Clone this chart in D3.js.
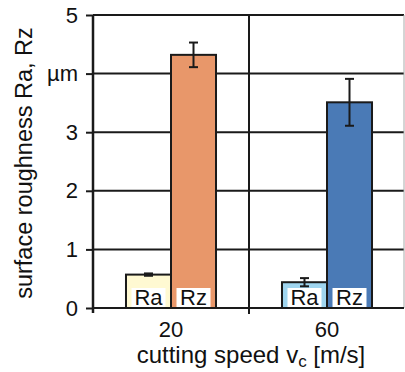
<!DOCTYPE html>
<html><head><meta charset="utf-8">
<script src="https://cdn.jsdelivr.net/npm/d3@7"></script>
<style>body{margin:0;background:#fff}svg{display:block;font-family:"Liberation Sans",Arial,sans-serif}</style>
</head><body><svg id="c" width="405" height="372"></svg>
<script>
const speeds = ["20", "60"];
const measures = ["Ra", "Rz"];
const values20 = [0.57, 4.32];
const values60 = [0.44, 3.51];
const errors20 = [0.02, 0.21];
const errors60 = [0.07, 0.40];
const yTicks = [0, 1, 2, 3, 4, 5];
const yTickLabels = ["0", "1", "2", "3", "µm", "5"];
const fills = {"20": ["#FFF9D2", "#E8976A"], "60": ["#9FD5EF", "#4A7AB6"]};

const data = [];
speeds.forEach((s, i) => {
  const vals = i === 0 ? values20 : values60;
  const errs = i === 0 ? errors20 : errors60;
  measures.forEach((m, j) => data.push({speed: s, measure: m, value: vals[j], err: errs[j], fill: fills[s][j]}));
});

const svg = d3.select("#c");
const L = 93, R = 405, T = 15, B = 308;
const x = d3.scaleBand().domain(speeds).range([L, R]).padding(0);
const xi = d3.scaleBand().domain(measures).range([0, x.bandwidth()]).paddingInner(0).paddingOuter(0.733);
const y = d3.scaleLinear().domain([0, 5]).range([B, T]);

// gridlines
svg.append("g").selectAll("line").data(yTicks.filter(d => d > 0)).join("line")
  .attr("x1", L).attr("x2", R - 1).attr("y1", d => y(d)).attr("y2", d => y(d))
  .attr("stroke", "#1a1a1a").attr("stroke-width", 2);
// vertical separator
svg.append("line").attr("x1", x("60")).attr("x2", x("60")).attr("y1", T).attr("y2", B + 6)
  .attr("stroke", "#1a1a1a").attr("stroke-width", 2);
// right edge
svg.append("line").attr("x1", R - 1).attr("x2", R - 1).attr("y1", T).attr("y2", B)
  .attr("stroke", "#aaa").attr("stroke-width", 1);

// bars
const bars = svg.append("g").selectAll("g").data(data).join("g");
bars.append("rect")
  .attr("x", d => x(d.speed) + xi(d.measure))
  .attr("y", d => y(d.value))
  .attr("width", xi.bandwidth())
  .attr("height", d => y(0) - y(d.value))
  .attr("fill", d => d.fill).attr("stroke", "#1a1a1a").attr("stroke-width", 2);

// label boxes
bars.append("rect")
  .attr("x", d => x(d.speed) + xi(d.measure) + xi.bandwidth() / 2 - 17)
  .attr("y", B - 20).attr("width", 34).attr("height", 19).attr("fill", "#fff");
bars.append("text")
  .attr("x", d => x(d.speed) + xi(d.measure) + xi.bandwidth() / 2)
  .attr("y", B - 3).attr("text-anchor", "middle").attr("font-size", 22).attr("fill", "#111")
  .text(d => d.measure);

// error bars
bars.each(function(d) {
  const g = d3.select(this);
  const cx = x(d.speed) + xi(d.measure) + xi.bandwidth() / 2;
  g.append("line").attr("x1", cx).attr("x2", cx).attr("y1", y(d.value + d.err)).attr("y2", y(d.value - d.err))
    .attr("stroke", "#1a1a1a").attr("stroke-width", 2);
  [d.value + d.err, d.value - d.err].forEach(v => {
    g.append("line").attr("x1", cx - 4.5).attr("x2", cx + 4.5).attr("y1", y(v)).attr("y2", y(v))
      .attr("stroke", "#1a1a1a").attr("stroke-width", 2);
  });
});

// y axis
const yAxis = d3.axisLeft(y).tickValues(yTicks).tickSize(7).tickPadding(8)
  .tickFormat((d, i) => yTickLabels[i]);
const ya = svg.append("g").attr("transform", `translate(${L},0)`).call(yAxis);
ya.select(".domain").attr("stroke", "#1a1a1a").attr("stroke-width", 2.5).attr("d", `M0,${T}V${B + 5}`);
ya.selectAll(".tick line").attr("stroke", "#1a1a1a").attr("stroke-width", 2);
ya.selectAll(".tick text").attr("font-size", 22).attr("fill", "#111").attr("font-family", "Liberation Sans, Arial, sans-serif");

// x axis
const xAxis = d3.axisBottom(x).tickSize(0).tickPadding(13);
const xa = svg.append("g").attr("transform", `translate(0,${B})`).call(xAxis);
xa.select(".domain").attr("stroke", "#1a1a1a").attr("stroke-width", 2).attr("d", `M${L},0H${R - 1}`);
xa.selectAll(".tick text").attr("font-size", 22).attr("fill", "#111").attr("font-family", "Liberation Sans, Arial, sans-serif");

// titles
svg.append("text").attr("transform", "translate(32,163) rotate(-90)").attr("text-anchor", "middle")
  .attr("font-size", 23.5).attr("fill", "#111").text("surface roughness Ra, Rz");
const xt = svg.append("text").attr("x", 251).attr("y", 363).attr("text-anchor", "middle")
  .attr("font-size", 24).attr("fill", "#111");
xt.append("tspan").text("cutting speed v");
xt.append("tspan").attr("font-size", 17).attr("dy", 4).text("c");
xt.append("tspan").attr("dy", -4).text(" [m/s]");
</script></body></html>
